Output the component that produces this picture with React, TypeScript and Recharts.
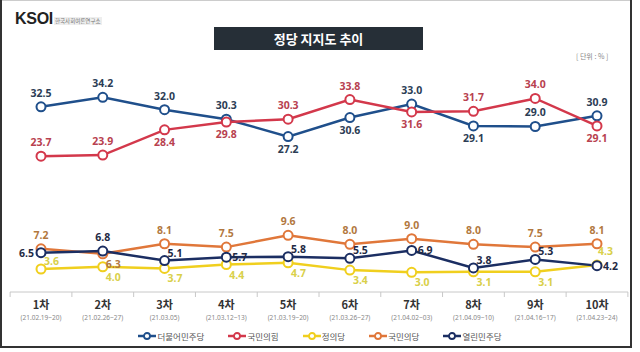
import { LineChart, Line, XAxis, YAxis, LabelList } from "recharts"

const rounds = ["1차", "2차", "3차", "4차", "5차", "6차", "7차", "8차", "9차", "10차"]
const dates = [
  "(21.02.19~20)",
  "(21.02.26~27)",
  "(21.03.05)",
  "(21.03.12~13)",
  "(21.03.19~20)",
  "(21.03.26~27)",
  "(21.04.02~03)",
  "(21.04.09~10)",
  "(21.04.16~17)",
  "(21.04.23~24)",
]

const minjoo = [32.5, 34.2, 32.0, 30.3, 27.2, 30.6, 33.0, 29.1, 29.0, 30.9] // 더불어민주당
const ppp = [23.7, 23.9, 28.4, 29.8, 30.3, 33.8, 31.6, 31.7, 34.0, 29.1] // 국민의힘
const justice = [3.6, 4.0, 3.7, 4.4, 4.7, 3.4, 3.0, 3.1, 3.1, 4.3] // 정의당
const peoples = [7.2, 6.3, 8.1, 7.5, 9.6, 8.0, 9.0, 8.0, 7.5, 8.1] // 국민의당
const open = [6.5, 6.8, 5.1, 5.7, 5.8, 5.5, 6.9, 3.8, 5.3, 4.2] // 열린민주당

const data = rounds.map((round, i) => ({
  round,
  minjoo: minjoo[i],
  ppp: ppp[i],
  justice: justice[i],
  peoples: peoples[i],
  open: open[i],
}))

// where each value label sits relative to its dot
const series = [
  { key: "minjoo", name: "더불어민주당", color: "#1f4f8b", text: "#2c3d55", place: ["T", "T", "T", "T", "B", "B", "T", "B", "T", "T"] },
  { key: "ppp", name: "국민의힘", color: "#d3384b", text: "#b8414f", place: ["T", "T", "B", "B", "T", "T", "B", "T", "T", "B"] },
  { key: "justice", name: "정의당", color: "#f0cf1e", text: "#d9d04a", place: ["TR", "BR", "BR", "BR", "BR", "BR", "BR", "BR", "BR", "UR"] },
  { key: "peoples", name: "국민의당", color: "#e0773a", text: "#b27840", place: ["T", "BR", "T", "T", "T", "T", "T", "T", "T", "T"] },
  { key: "open", name: "열린민주당", color: "#1b2e62", text: "#1f2a44", place: ["L", "T", "TR", "R", "TR", "TR", "R", "TR", "TR", "R"] },
]

const W = 640
const H = 352
const M = { top: 76, right: 12, bottom: 0, left: 10 }
const PAD = 31
const HALF = (W - M.left - M.right - PAD * 2) / (rounds.length - 1) / 2

const KR = "'Noto Sans CJK KR', 'Noto Sans', sans-serif"

const makeLabel = (place: string[], color: string) => (props: any) => {
  const { x, y, value, index } = props
  const p = place[index]
  let dx = 0
  let dy = 0
  let anchor: "start" | "middle" | "end" = "middle"
  if (p === "T") dy = -10
  else if (p === "B") dy = 16
  else if (p === "R") { dx = 6; dy = 4; anchor = "start" }
  else if (p === "TR") { dx = 3; dy = -4; anchor = "start" }
  else if (p === "UR") { dx = 1; dy = -10; anchor = "start" }
  else if (p === "BR") { dx = 3; dy = 14; anchor = "start" }
  else if (p === "L") { dx = -7; dy = 4; anchor = "end" }
  return (
    <text x={x + dx} y={y + dy} textAnchor={anchor} fontSize={10.5} fontWeight={700} fill={color} fontFamily="'Noto Sans', sans-serif">
      {Number(value).toFixed(1)}
    </text>
  )
}

const RoundTick = (props: any) => {
  const { x, y, payload, index } = props
  return (
    <g>
      <line x1={x - HALF} x2={x - HALF} y1={y} y2={y + 5} stroke="#c8c8c8" />
      {index === rounds.length - 1 && <line x1={x + HALF} x2={x + HALF} y1={y} y2={y + 5} stroke="#c8c8c8" />}
      <text x={x} y={y + 17} textAnchor="middle" fontSize={11} fontWeight={700} fill="#333" fontFamily={KR}>
        {payload.value}
      </text>
      <text x={x} y={y + 28} textAnchor="middle" fontSize={6.5} fill="#888" fontFamily="'Noto Sans', sans-serif">
        {dates[index]}
      </text>
    </g>
  )
}

function Legend() {
  return (
    <div style={{ position: "absolute", top: 330, left: 0, width: W, display: "flex", justifyContent: "center", gap: 24, fontFamily: KR, fontSize: 8.5, color: "#555" }}>
      {series.map((s) => (
        <div key={s.key} style={{ display: "flex", alignItems: "center", gap: 1 }}>
          <svg width={18} height={10}>
            <line x1={0} x2={18} y1={5} y2={5} stroke={s.color} strokeWidth={2.5} />
            <circle cx={9} cy={5} r={3} fill="#fff" stroke={s.color} strokeWidth={1.8} />
          </svg>
          <span>{s.name}</span>
        </div>
      ))}
    </div>
  )
}

export default function App() {
  return (
    <div style={{ position: "absolute", left: 0, top: 0, width: W, height: H, background: "#fff", overflow: "hidden" }}>
      {/* frame */}
      <div style={{ position: "absolute", left: 0, top: 0, width: 632, height: 1, background: "#ccc" }} />
      <div style={{ position: "absolute", left: 0, top: 0, width: 2, height: 348, background: "#333" }} />
      <div style={{ position: "absolute", left: 630, top: 0, width: 2, height: 348, background: "#333" }} />
      <div style={{ position: "absolute", left: 0, top: 346, width: 632, height: 2, background: "#333" }} />

      {/* logo */}
      <div style={{ position: "absolute", left: 15, top: 10, fontFamily: "'Liberation Sans', Arial, sans-serif", fontWeight: 700, fontSize: 16, color: "#222", letterSpacing: -0.3 }}>
        KSOI
      </div>
      <div style={{ position: "absolute", left: 54, top: 17, fontFamily: KR, fontSize: 5.5, color: "#777", background: "#eee", padding: "0 1px" }}>
        한국사회여론연구소
      </div>

      {/* title */}
      <div style={{ position: "absolute", left: 214, top: 27, width: 209, height: 23, background: "#262f37", color: "#fff", fontFamily: KR, fontWeight: 700, fontSize: 13, display: "flex", alignItems: "center", justifyContent: "center" }}>
        정당 지지도 추이
      </div>
      <div style={{ position: "absolute", left: 576, top: 51, fontFamily: KR, fontSize: 7, color: "#888" }}>[ 단위 : % ]</div>

      <div style={{ position: "absolute", left: 0, top: 0 }}>
        <LineChart width={W} height={H} data={data} margin={M}>
          <XAxis
            dataKey="round"
            height={60}
            tickSize={0}
            tickMargin={0}
            interval={0}
            padding={{ left: PAD, right: PAD }}
            axisLine={{ stroke: "#c8c8c8" }}
            tick={<RoundTick />}
          />
          <YAxis hide domain={[-0.5, 38]} />
          {series.map((s) => (
            <Line
              key={s.key}
              dataKey={s.key}
              name={s.name}
              stroke={s.color}
              strokeWidth={2.5}
              dot={{ r: 4.5, fill: "#fff", stroke: s.color, strokeWidth: 2 }}
              activeDot={false}
              isAnimationActive={false}
            >
              <LabelList dataKey={s.key} content={makeLabel(s.place, s.text)} />
            </Line>
          ))}
        </LineChart>
      </div>
      <Legend />
    </div>
  )
}
